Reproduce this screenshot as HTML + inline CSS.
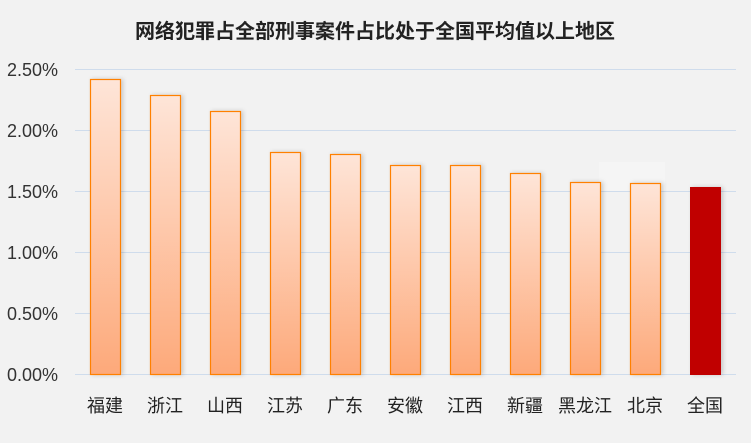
<!DOCTYPE html>
<html><head><meta charset="utf-8"><style>
body{margin:0;background:#f2f2f2;}
svg{display:block;font-family:"Liberation Sans","Noto Sans CJK SC",sans-serif;}
</style></head><body>
<svg width="751" height="443" viewBox="0 0 751 443">
<defs>
<linearGradient id="g" x1="0" y1="0" x2="0" y2="1">
<stop offset="0" stop-color="#fee5d8"/><stop offset="1" stop-color="#fda97a"/>
</linearGradient>
<filter id="s" x="-20%" y="-5%" width="150%" height="110%"><feDropShadow dx="2" dy="0" stdDeviation="2" flood-color="#000" flood-opacity="0.18"/></filter>
</defs>
<rect width="751" height="443" fill="#f2f2f2"/>
<text x="375" y="38" text-anchor="middle" font-size="20" font-weight="bold" fill="#222">网络犯罪占全部刑事案件占比处于全国平均值以上地区</text>
<rect x="599" y="162" width="66" height="30" fill="#f5f5f5"/>
<g stroke="#cfdcec" stroke-width="1">
<line x1="75" y1="69.5" x2="736" y2="69.5"/>
<line x1="75" y1="130.5" x2="736" y2="130.5"/>
<line x1="75" y1="191.5" x2="736" y2="191.5"/>
<line x1="75" y1="252.5" x2="736" y2="252.5"/>
<line x1="75" y1="313.5" x2="736" y2="313.5"/>
<line x1="75" y1="374.5" x2="736" y2="374.5"/>
</g>
<g font-size="18" fill="#333" text-anchor="end">
<text x="58" y="76">2.50%</text>
<text x="58" y="137">2.00%</text>
<text x="58" y="198">1.50%</text>
<text x="58" y="259">1.00%</text>
<text x="58" y="320">0.50%</text>
<text x="58" y="381">0.00%</text>
</g>
<g fill="url(#g)" stroke="#ff8000" stroke-width="1.2" filter="url(#s)">
<rect x="90.5" y="79.5" width="30" height="295"/>
<rect x="150.5" y="95.5" width="30" height="279"/>
<rect x="210.5" y="111.5" width="30" height="263"/>
<rect x="270.5" y="152.5" width="30" height="222"/>
<rect x="330.5" y="154.5" width="30" height="220"/>
<rect x="390.5" y="165.5" width="30" height="209"/>
<rect x="450.5" y="165.5" width="30" height="209"/>
<rect x="510.5" y="173.5" width="30" height="201"/>
<rect x="570.5" y="182.5" width="30" height="192"/>
<rect x="630.5" y="183.5" width="30" height="191"/>
</g>
<rect x="690" y="187" width="31" height="188" fill="#c00000" filter="url(#s)"/>
<g font-size="18" fill="#222" text-anchor="middle">
<text x="105" y="412">福建</text><text x="165" y="412">浙江</text><text x="225" y="412">山西</text>
<text x="285" y="412">江苏</text><text x="345" y="412">广东</text><text x="405" y="412">安徽</text>
<text x="465" y="412">江西</text><text x="525" y="412">新疆</text><text x="585" y="412">黑龙江</text>
<text x="645" y="412">北京</text><text x="705" y="412">全国</text>
</g>
</svg>
</body></html>
